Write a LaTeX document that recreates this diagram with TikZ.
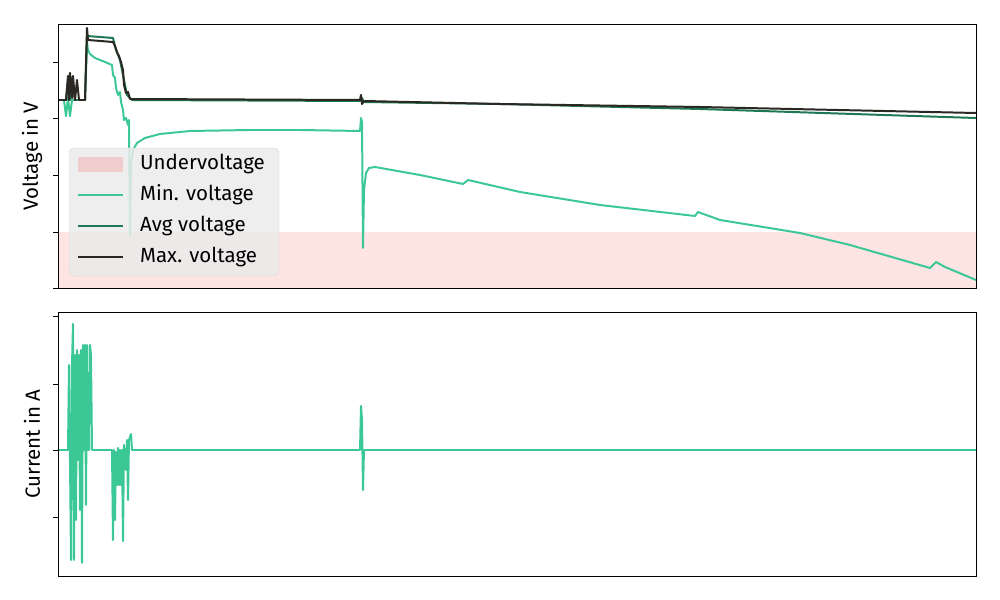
\documentclass[tikz,border=0pt]{standalone}
\usepackage{fontspec}
\setmainfont{Fira Sans}
\definecolor{cmin}{RGB}{60,200,150}
\definecolor{cavg}{RGB}{30,120,85}
\definecolor{cmax}{RGB}{43,39,34}
\definecolor{cband}{RGB}{255,228,228}
\definecolor{cbandleg}{RGB}{240,205,205}
\definecolor{clegf}{RGB}{235,235,235}
\definecolor{clegd}{RGB}{215,215,215}
\begin{document}
\begin{tikzpicture}[x=0.03cm,y=-0.03cm,
  minc/.style={draw=cmin,line width=1.7pt,line join=round},
  avgc/.style={draw=cavg,line width=1.7pt,line join=round},
  maxc/.style={draw=cmax,line width=1.7pt,line join=round},
  tick/.style={draw,line width=0.6pt},
  lbl/.style={font=\fontsize{17.5}{20}\selectfont}]
\useasboundingbox (0,0) rectangle (1000,600);
\fill[cband] (58,232) rectangle (976,288);
\draw[minc] (58,100) -- (64,100) -- (66,116) -- (68,98) -- (70,116) -- (72,100) -- (85,100) -- (87,42) -- (88,50) -- (90,54) -- (95,58) -- (100,60) -- (105,62) -- (112,65) -- (113,75) -- (115,78) -- (116,88) -- (118,95) -- (120,92) -- (121,102) -- (123,110) -- (124,120) -- (126,118) -- (128,125) -- (129,120) -- (130,235) -- (131,165) -- (133,150) -- (137,143) -- (145,138) -- (160,134) -- (190,131) -- (250,130) -- (300,130) -- (360,131) -- (361,118) -- (362,122) -- (363,248) -- (364,190) -- (366,173) -- (369,168) -- (375,167) -- (420,175) -- (463,184) -- (468,180) -- (520,192) -- (600,205) -- (695,216) -- (698,212) -- (720,220) -- (800,233) -- (850,245) -- (930,268) -- (936,262) -- (945,267) -- (976,280);
\draw[avgc] (58,100) -- (66,100) -- (68,80) -- (70,100) -- (72,78) -- (75,100) -- (85,100) -- (87,36) -- (113,38) -- (116,50) -- (120,60) -- (124,80) -- (127,95) -- (132,100) -- (360,101) -- (362,98) -- (364,102) -- (500,104) -- (700,109) -- (976,118);
\draw[maxc] (58,100) -- (66,100) -- (68,76) -- (69,100) -- (70,73) -- (72,98) -- (73,76) -- (75,100) -- (77,80) -- (79,100) -- (85,100) -- (87,28) -- (88,40) -- (113,42) -- (115,46) -- (117,52) -- (119,56) -- (121,62) -- (123,70) -- (124,85) -- (126,93) -- (128,92) -- (130,99) -- (360,100) -- (361,95) -- (362,104) -- (364,101) -- (500,104) -- (700,107) -- (976,113);
\filldraw[fill=clegf,fill opacity=0.85,draw=clegd,rounded corners=4pt] (69,148) rectangle (279,276);
\fill[cbandleg] (78,157) rectangle (123,172);
\node[lbl,anchor=west] (l1) at (136,164) {Undervoltage};
\draw[minc] (78,195) -- (123,195);
\node[lbl,anchor=west] (l2) at (136,195) {Min. voltage};
\draw[avgc] (78,226) -- (123,226);
\node[lbl,anchor=west] (l3) at (136,226) {Avg voltage};
\draw[maxc] (78,257) -- (123,257);
\node[lbl,anchor=west] (l4) at (136,257) {Max. voltage};
\draw[line width=0.8pt] (58,24) rectangle (976,288);
\foreach \y in {62,118,175,232,288} \draw[tick] (53,\y) -- (58,\y);
\node[lbl,rotate=90] (yl1) at (32,156) {Voltage in V};
\draw[minc] (58,450) -- (68,450) -- (69,365) -- (70,460) -- (71,560) -- (72,365) -- (73,324) -- (74,560) -- (75,355) -- (76,520) -- (77,350) -- (78,460) -- (79,355) -- (80,510) -- (81,350) -- (82,563) -- (83,345) -- (84,450) -- (85,345) -- (86,505) -- (87,345) -- (88,450) -- (89,450) -- (90,345) -- (91,355) -- (92,450) -- (112,450) -- (113,540) -- (114,450) -- (115,520) -- (116,452) -- (117,485) -- (118,448) -- (119,485) -- (120,450) -- (121,485) -- (122,450) -- (123,541) -- (124,445) -- (126,470) -- (127,440) -- (128,500) -- (129,440) -- (131,434) -- (132,450) -- (360,450) -- (361,406) -- (362,420) -- (363,490) -- (364,450) -- (976,450);
\draw[line width=0.8pt] (58,312) rectangle (976,576);
\foreach \y in {316,384,450,517} \draw[tick] (53,\y) -- (58,\y);
\node[lbl,rotate=90] (yl2) at (32,444) {Current in A};
\end{tikzpicture}
\end{document}
